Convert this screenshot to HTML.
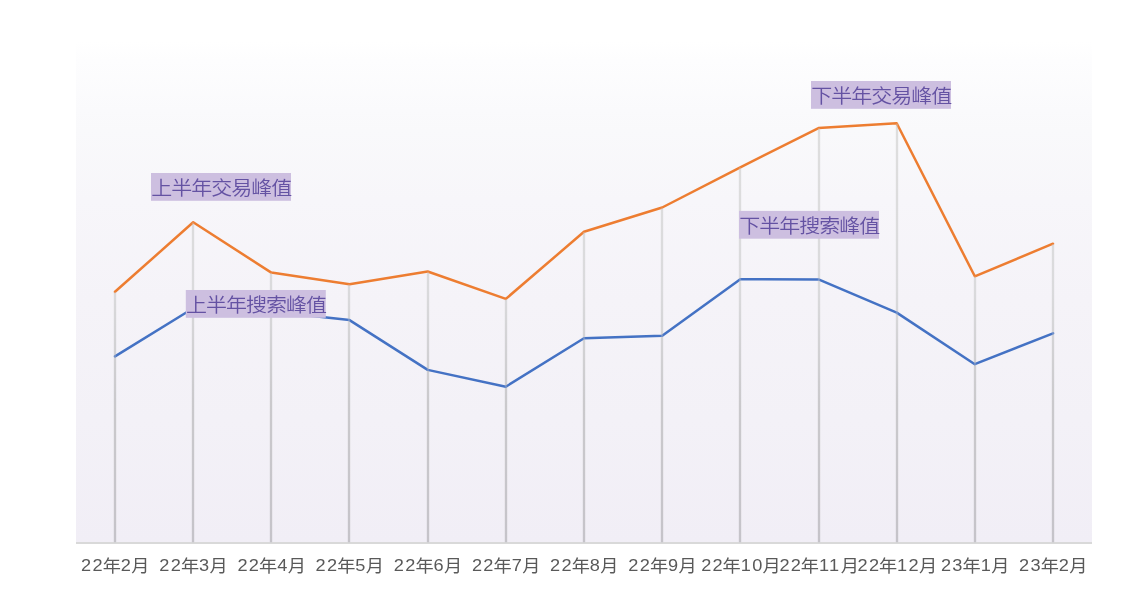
<!DOCTYPE html>
<html lang="zh-CN">
<head>
<meta charset="utf-8">
<title>搜索与交易趋势</title>
<style>
html,body{margin:0;padding:0;background:#fff;}
body{width:1124px;height:590px;overflow:hidden;font-family:"Liberation Sans","Noto Sans CJK SC",sans-serif;}
svg{display:block;}
.ax text{font-family:"Liberation Sans","Noto Sans CJK SC",sans-serif;font-size:17.4px;fill:#595959;}
.ax .d{letter-spacing:1.2px;}
text.co{font-family:"Liberation Sans","Noto Sans CJK SC",sans-serif;font-size:20px;font-weight:350;letter-spacing:-0.95px;fill:#6452a3;}
</style>
</head>
<body>
<svg width="1124" height="590" viewBox="0 0 1124 590">
<defs>
<linearGradient id="bg" gradientUnits="userSpaceOnUse" x1="0" y1="41" x2="0" y2="543">
<stop offset="0" stop-color="#ffffff"/>
<stop offset="0.038" stop-color="#fdfdfe"/>
<stop offset="0.137" stop-color="#fafafc"/>
<stop offset="0.177" stop-color="#f9f9fb"/>
<stop offset="0.317" stop-color="#f7f6fa"/>
<stop offset="0.516" stop-color="#f5f3f8"/>
<stop offset="0.755" stop-color="#f3f1f7"/>
<stop offset="1" stop-color="#f1eef6"/>
</linearGradient>
<linearGradient id="dg" gradientUnits="userSpaceOnUse" x1="0" y1="120" x2="0" y2="543">
<stop offset="0" stop-color="#dedede"/>
<stop offset="0.4" stop-color="#dadadc"/>
<stop offset="0.67" stop-color="#cac9cc"/>
<stop offset="1" stop-color="#c5c3c9"/>
</linearGradient>
</defs>
<rect x="0" y="0" width="1124" height="590" fill="#ffffff"/>
<rect x="76" y="41" width="1016" height="502" fill="url(#bg)"/>
<g>
<line x1="115" y1="292.0" x2="115" y2="543" stroke="url(#dg)" stroke-width="2.3"/>
<line x1="193" y1="222.5" x2="193" y2="543" stroke="url(#dg)" stroke-width="2.3"/>
<line x1="271" y1="272.8" x2="271" y2="543" stroke="url(#dg)" stroke-width="2.3"/>
<line x1="349" y1="284.5" x2="349" y2="543" stroke="url(#dg)" stroke-width="2.3"/>
<line x1="428" y1="271.7" x2="428" y2="543" stroke="url(#dg)" stroke-width="2.3"/>
<line x1="506" y1="299.1" x2="506" y2="543" stroke="url(#dg)" stroke-width="2.3"/>
<line x1="584" y1="232.0" x2="584" y2="543" stroke="url(#dg)" stroke-width="2.3"/>
<line x1="662" y1="207.7" x2="662" y2="543" stroke="url(#dg)" stroke-width="2.3"/>
<line x1="740" y1="167.5" x2="740" y2="543" stroke="url(#dg)" stroke-width="2.3"/>
<line x1="819" y1="128.3" x2="819" y2="543" stroke="url(#dg)" stroke-width="2.3"/>
<line x1="897" y1="123.4" x2="897" y2="543" stroke="url(#dg)" stroke-width="2.3"/>
<line x1="975" y1="276.5" x2="975" y2="543" stroke="url(#dg)" stroke-width="2.3"/>
<line x1="1053" y1="243.9" x2="1053" y2="543" stroke="url(#dg)" stroke-width="2.3"/>
</g>
<line x1="76" y1="543" x2="1092" y2="543" stroke="#d9d9d9" stroke-width="1.8"/>
<polyline points="115.0,356.4 193.2,308.3 271.3,311.6 349.5,320.1 427.7,369.9 505.8,386.7 584.0,338.3 662.2,335.7 740.3,279.3 818.5,279.4 896.7,312.6 974.8,364.2 1053.0,333.3" fill="none" stroke="#4472c4" stroke-width="2.5" stroke-linejoin="round" stroke-linecap="round"/>
<polyline points="115.0,291.8 193.2,222.3 271.3,272.6 349.5,284.3 427.7,271.5 505.8,298.9 584.0,231.8 662.2,207.5 740.3,167.3 818.5,128.1 896.7,123.2 974.8,276.3 1053.0,243.7" fill="none" stroke="#ed7d31" stroke-width="2.5" stroke-linejoin="round" stroke-linecap="round"/>
<g opacity="0.3">
<line x1="115" y1="292.0" x2="115" y2="543" stroke="url(#dg)" stroke-width="2.3"/>
<line x1="193" y1="222.5" x2="193" y2="543" stroke="url(#dg)" stroke-width="2.3"/>
<line x1="271" y1="272.8" x2="271" y2="543" stroke="url(#dg)" stroke-width="2.3"/>
<line x1="349" y1="284.5" x2="349" y2="543" stroke="url(#dg)" stroke-width="2.3"/>
<line x1="428" y1="271.7" x2="428" y2="543" stroke="url(#dg)" stroke-width="2.3"/>
<line x1="506" y1="299.1" x2="506" y2="543" stroke="url(#dg)" stroke-width="2.3"/>
<line x1="584" y1="232.0" x2="584" y2="543" stroke="url(#dg)" stroke-width="2.3"/>
<line x1="662" y1="207.7" x2="662" y2="543" stroke="url(#dg)" stroke-width="2.3"/>
<line x1="740" y1="167.5" x2="740" y2="543" stroke="url(#dg)" stroke-width="2.3"/>
<line x1="819" y1="128.3" x2="819" y2="543" stroke="url(#dg)" stroke-width="2.3"/>
<line x1="897" y1="123.4" x2="897" y2="543" stroke="url(#dg)" stroke-width="2.3"/>
<line x1="975" y1="276.5" x2="975" y2="543" stroke="url(#dg)" stroke-width="2.3"/>
<line x1="1053" y1="243.9" x2="1053" y2="543" stroke="url(#dg)" stroke-width="2.3"/>
</g>
<g>
<rect x="151" y="173" width="140" height="27.8" fill="#cdbfe0"/>
<text transform="translate(151.30,195.2) scale(1.05,0.96)" class="co">上半年交易峰值</text>
<rect x="185.8" y="290" width="140" height="27.8" fill="#cdbfe0"/>
<text transform="translate(186.10,312.2) scale(1.05,0.96)" class="co">上半年搜索峰值</text>
<rect x="739" y="210.9" width="140" height="27.8" fill="#cdbfe0"/>
<text transform="translate(739.30,233.1) scale(1.05,0.96)" class="co">下半年搜索峰值</text>
<rect x="811" y="81" width="140" height="27.8" fill="#cdbfe0"/>
<text transform="translate(811.30,103.2) scale(1.05,0.96)" class="co">下半年交易峰值</text>
</g>
<g class="ax">
<text transform="translate(115.00,571) scale(1.045,1)"><tspan class="d" x="-32.44" y="0">22</tspan><tspan x="-11.77" y="0.9">年</tspan><tspan class="d" x="5.55" y="0">2</tspan><tspan x="15.60" y="0.9">月</tspan></text>
<text transform="translate(193.17,571) scale(1.045,1)"><tspan class="d" x="-32.44" y="0">22</tspan><tspan x="-11.77" y="0.9">年</tspan><tspan class="d" x="5.55" y="0">3</tspan><tspan x="15.60" y="0.9">月</tspan></text>
<text transform="translate(271.33,571) scale(1.045,1)"><tspan class="d" x="-32.44" y="0">22</tspan><tspan x="-11.77" y="0.9">年</tspan><tspan class="d" x="5.55" y="0">4</tspan><tspan x="15.60" y="0.9">月</tspan></text>
<text transform="translate(349.50,571) scale(1.045,1)"><tspan class="d" x="-32.44" y="0">22</tspan><tspan x="-11.77" y="0.9">年</tspan><tspan class="d" x="5.55" y="0">5</tspan><tspan x="15.60" y="0.9">月</tspan></text>
<text transform="translate(427.67,571) scale(1.045,1)"><tspan class="d" x="-32.44" y="0">22</tspan><tspan x="-11.77" y="0.9">年</tspan><tspan class="d" x="5.55" y="0">6</tspan><tspan x="15.60" y="0.9">月</tspan></text>
<text transform="translate(505.83,571) scale(1.045,1)"><tspan class="d" x="-32.44" y="0">22</tspan><tspan x="-11.77" y="0.9">年</tspan><tspan class="d" x="5.55" y="0">7</tspan><tspan x="15.60" y="0.9">月</tspan></text>
<text transform="translate(584.00,571) scale(1.045,1)"><tspan class="d" x="-32.44" y="0">22</tspan><tspan x="-11.77" y="0.9">年</tspan><tspan class="d" x="5.55" y="0">8</tspan><tspan x="15.60" y="0.9">月</tspan></text>
<text transform="translate(662.17,571) scale(1.045,1)"><tspan class="d" x="-32.44" y="0">22</tspan><tspan x="-11.77" y="0.9">年</tspan><tspan class="d" x="5.55" y="0">9</tspan><tspan x="15.60" y="0.9">月</tspan></text>
<text transform="translate(740.33,571) scale(1.045,1)"><tspan class="d" x="-37.42" y="0">22</tspan><tspan x="-17.03" y="0.9">年</tspan><tspan class="d" x="0.43" y="0">10</tspan><tspan x="21.34" y="0.9">月</tspan></text>
<text transform="translate(818.50,571) scale(1.045,1)"><tspan class="d" x="-37.42" y="0">22</tspan><tspan x="-17.03" y="0.9">年</tspan><tspan class="d" x="0.43" y="0">11</tspan><tspan x="21.34" y="0.9">月</tspan></text>
<text transform="translate(896.67,571) scale(1.045,1)"><tspan class="d" x="-37.42" y="0">22</tspan><tspan x="-17.03" y="0.9">年</tspan><tspan class="d" x="0.43" y="0">12</tspan><tspan x="21.34" y="0.9">月</tspan></text>
<text transform="translate(974.83,571) scale(1.045,1)"><tspan class="d" x="-32.44" y="0">23</tspan><tspan x="-11.77" y="0.9">年</tspan><tspan class="d" x="5.55" y="0">1</tspan><tspan x="15.60" y="0.9">月</tspan></text>
<text transform="translate(1053.00,571) scale(1.045,1)"><tspan class="d" x="-32.44" y="0">23</tspan><tspan x="-11.77" y="0.9">年</tspan><tspan class="d" x="5.55" y="0">2</tspan><tspan x="15.60" y="0.9">月</tspan></text>
</g>
</svg>
</body>
</html>
